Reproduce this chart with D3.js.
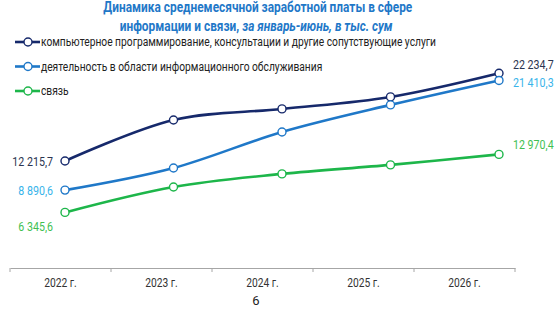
<!DOCTYPE html>
<html lang="ru">
<head>
<meta charset="UTF-8">
<title>chart</title>
<style>
    body { margin: 0; background: #fff; }
    svg { display: block; font-family: "Roboto", sans-serif; }
</style>
</head>
<body>
<script src="https://cdn.jsdelivr.net/npm/d3@7"></script>
<script>
    const W = 560, H = 315;

    // данные
    const years = ["2022", "2023", "2024", "2025", "2026"];
    const yearLabels = ["2022 г.", "2023 г.", "2024 г.", "2025 г.", "2026 г."];
    const seriesNames = [
        "компьютерное программирование, консультации и другие сопутствующие услуги",
        "деятельность в области информационного обслуживания",
        "связь"
    ];
    const itServices = [12215.7, 16900, 18160, 19530, 22234.7];
    const infoServices = [8890.6, 11420, 15530, 18620, 21410.3];
    const telecom = [6345.6, 9250, 10740, 11770, 12970.4];

    const lineColors = ["#16296b", "#1f78c8", "#1db64a"];
    const labelColors = ["#2b3450", "#38b4ea", "#3fbf52"];

    // сжатый шрифт (как Roboto Condensed) — масштаб по горизонтали вокруг точки привязки
    const K = 0.82;
    function condense(sel, x) {
        sel.attr("transform", `translate(${x},0) scale(${K},1) translate(${-x},0)`);
    }

    const series = [itServices, infoServices, telecom].map((vals, i) => ({
        name: seriesNames[i],
        values: vals.map((v, j) => ({ year: years[j], value: v }))
    }));

    const svg = d3.select("body").append("svg")
        .attr("width", W)
        .attr("height", H);

    // заголовок
    const title = svg.append("text")
        .attr("text-anchor", "middle")
        .attr("fill", "#1f78c8")
        .attr("font-weight", "bold")
        .attr("font-size", 14.5);
    title.append("tspan").attr("x", 258).attr("y", 12)
        .text("Динамика среднемесячной заработной платы в сфере");
    const t2 = title.append("tspan").attr("x", 256).attr("y", 31);
    t2.append("tspan").text("информации и связи, ");
    t2.append("tspan").attr("font-style", "italic").text("за январь-июнь, в тыс. сум");
    condense(title, 257);

    // шкалы
    const xPts = d3.scalePoint().domain(years).range([65, 499]);
    const xBand = d3.scaleBand().domain(years).range([10, 515]);
    const y = d3.scaleLinear().domain([0, 25000]).range([268, 49]);

    // ось x
    const axis = svg.append("g")
        .attr("transform", "translate(0,268)")
        .call(d3.axisBottom(xBand).tickSize(0).tickPadding(10)
            .tickFormat((d, i) => yearLabels[i]));
    axis.select(".domain").attr("stroke", "#a6a6a6").attr("stroke-width", 1.2);
    axis.selectAll(".tick text")
        .attr("font-family", "Roboto, sans-serif")
        .attr("font-size", 12.5)
        .attr("fill", "#333")
        .call(condense, 0);
    axis.selectAll(".sep")
        .data(years.concat(["end"]))
        .join("line")
        .attr("class", "sep")
        .attr("x1", (d, i) => i < years.length ? xBand(d) : xBand.range()[1])
        .attr("x2", (d, i) => i < years.length ? xBand(d) : xBand.range()[1])
        .attr("y1", 0)
        .attr("y2", 4)
        .attr("stroke", "#a6a6a6");

    // линии
    const line = d3.line()
        .x(d => xPts(d.year))
        .y(d => y(d.value))
        .curve(d3.curveCatmullRom.alpha(0.5));

    series.forEach((s, i) => {
        svg.append("path")
            .datum(s.values)
            .attr("fill", "none")
            .attr("stroke", lineColors[i])
            .attr("stroke-width", 2.6)
            .attr("d", line);
        svg.append("g").selectAll("circle")
            .data(s.values)
            .join("circle")
            .attr("cx", d => xPts(d.year))
            .attr("cy", d => y(d.value))
            .attr("r", 4)
            .attr("fill", "#fff")
            .attr("stroke", lineColors[i])
            .attr("stroke-width", 1.4);
    });

    // подписи значений
    const fmt = v => d3.format(",.1f")(v).replace(/,/g, " ").replace(".", ",");
    const leftDy = [0, 0, 14];
    const rightDy = [-9, 2, -10];
    series.forEach((s, i) => {
        const first = s.values[0], last = s.values[s.values.length - 1];
        svg.append("text")
            .attr("x", 53)
            .attr("y", y(first.value) + leftDy[i])
            .attr("dy", "0.35em")
            .attr("text-anchor", "end")
            .attr("font-size", 13)
            .attr("fill", labelColors[i])
            .text(fmt(first.value))
            .call(condense, 53);
        svg.append("text")
            .attr("x", 513)
            .attr("y", y(last.value) + rightDy[i])
            .attr("dy", "0.35em")
            .attr("font-size", 13)
            .attr("fill", labelColors[i])
            .text(fmt(last.value))
            .call(condense, 513);
    });

    // легенда
    const legend = svg.append("g").selectAll("g")
        .data(series)
        .join("g")
        .attr("transform", (d, i) => `translate(0,${42 + i * 24.5})`);
    legend.append("line")
        .attr("x1", 15).attr("x2", 40)
        .attr("stroke", (d, i) => lineColors[i])
        .attr("stroke-width", 2.6);
    legend.append("circle")
        .attr("cx", 28).attr("r", 4)
        .attr("fill", "#fff")
        .attr("stroke", (d, i) => lineColors[i])
        .attr("stroke-width", 1.4);
    legend.append("text")
        .attr("x", 41)
        .attr("dy", "0.35em")
        .attr("font-size", 12.5)
        .attr("fill", "#222")
        .text(d => d.name)
        .call(condense, 41);

    // номер страницы
    svg.append("text")
        .attr("x", 256).attr("y", 300)
        .attr("dy", "0.35em")
        .attr("text-anchor", "middle")
        .attr("font-size", 13)
        .attr("fill", "#222")
        .text("6");
</script>
</body>
</html>
